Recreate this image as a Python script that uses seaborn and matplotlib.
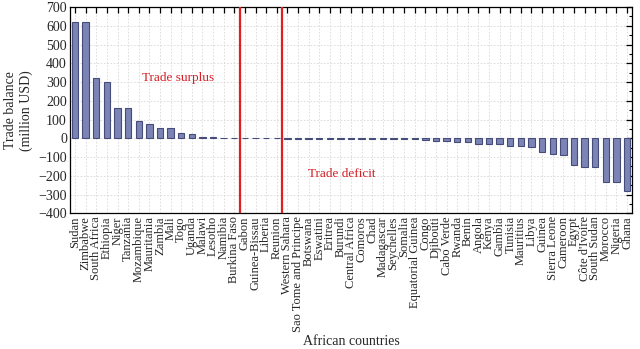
import matplotlib
matplotlib.use("Agg")
import matplotlib.pyplot as plt
import seaborn as sns
import pandas as pd
from matplotlib.ticker import MultipleLocator

countries = ["Sudan", "Zimbabwe", "South Africa", "Ethiopia", "Niger", "Tanzania",
             "Mozambique", "Mauritania", "Zambia", "Mali", "Togo", "Uganda", "Malawi",
             "Lesotho", "Namibia", "Burkina Faso", "Gabon", "Guinea-Bissau", "Liberia",
             "Reunion", "Western Sahara", "Sao Tome and Principe", "Botswana", "Eswatini",
             "Eritrea", "Burundi", "Central Africa", "Comoros", "Chad", "Madagascar",
             "Seychelles", "Somalia", "Equatorial Guinea", "Congo", "Djibouti",
             "Cabo Verde", "Rwanda", "Benin", "Angola", "Kenya", "Gambia", "Tunisia",
             "Mauritius", "Libya", "Guinea", "Sierra Leone", "Cameroon", "Egypt",
             "Côte d'Ivoire", "South Sudan", "Morocco", "Nigeria", "Ghana"]

trade_balance = [620, 620, 323, 298, 163, 163,
                 90, 78, 56, 53, 28, 21, 9,
                 5, 4, 3, 0, 0, 0,
                 0, -1, -1, -1, -1,
                 -1, -1, -2, -2, -2, -3,
                 -3, -4, -5, -7, -14,
                 -15, -17, -20, -30, -30, -30, -39,
                 -41, -48, -75, -85, -91, -142,
                 -151, -153, -233, -233, -282]

divider_positions = [15.5, 19.5]

df = pd.DataFrame({"country": countries, "balance": trade_balance})

sns.set_style("white")
plt.rcParams["font.family"] = ["Liberation Serif", "DejaVu Serif"]
plt.rcParams["mathtext.fontset"] = "stix"

fig = plt.figure(figsize=(6.4, 3.49), dpi=100)
ax = fig.add_axes([0.109, 0.3885, 0.879, 0.5915])

sns.barplot(data=df, x="country", y="balance", color="#7b84b5",
            edgecolor="#454c7a", linewidth=0.8, width=0.6, saturation=1,
            ax=ax, zorder=3)

ax.set_xlim(-0.5, len(countries) - 0.5)
ax.set_ylim(-400, 700)
ax.yaxis.set_major_locator(MultipleLocator(100))
ax.yaxis.set_minor_locator(MultipleLocator(50))

ax.grid(True, which="major", axis="both", color="#d8d8d8", linestyle=(0, (2, 2)),
        linewidth=0.6, zorder=0)
ax.set_axisbelow(True)

for xv in divider_positions:
    ax.axvline(xv, color="#e02020", linewidth=1.6, zorder=4)

ax.text(9.7, 320, "Trade surplus", color="#d61f26", fontsize=9.5,
        ha="center", va="center")
ax.text(21.9, -190, "Trade deficit", color="#d61f26", fontsize=9.5,
        ha="left", va="center")

ax.tick_params(axis="both", which="both", direction="in", top=True, right=True,
               color="black")
ax.tick_params(axis="both", which="major", length=4, width=0.9)
ax.tick_params(axis="y", which="minor", length=2.5, width=0.8)
ax.tick_params(axis="x", which="major", labelsize=9, pad=2)
ax.tick_params(axis="y", which="major", labelsize=10, pad=2)
ax.set_xticks(range(len(countries)))
ax.set_xticklabels(countries, rotation=90)

for s in ax.spines.values():
    s.set_color("black")
    s.set_linewidth(0.9)

ax.set_xlabel("African countries", fontsize=10, labelpad=2)
ax.set_ylabel("Trade balance\n(million USD)", fontsize=10, labelpad=4)

fig.savefig("out.png", dpi=100)
